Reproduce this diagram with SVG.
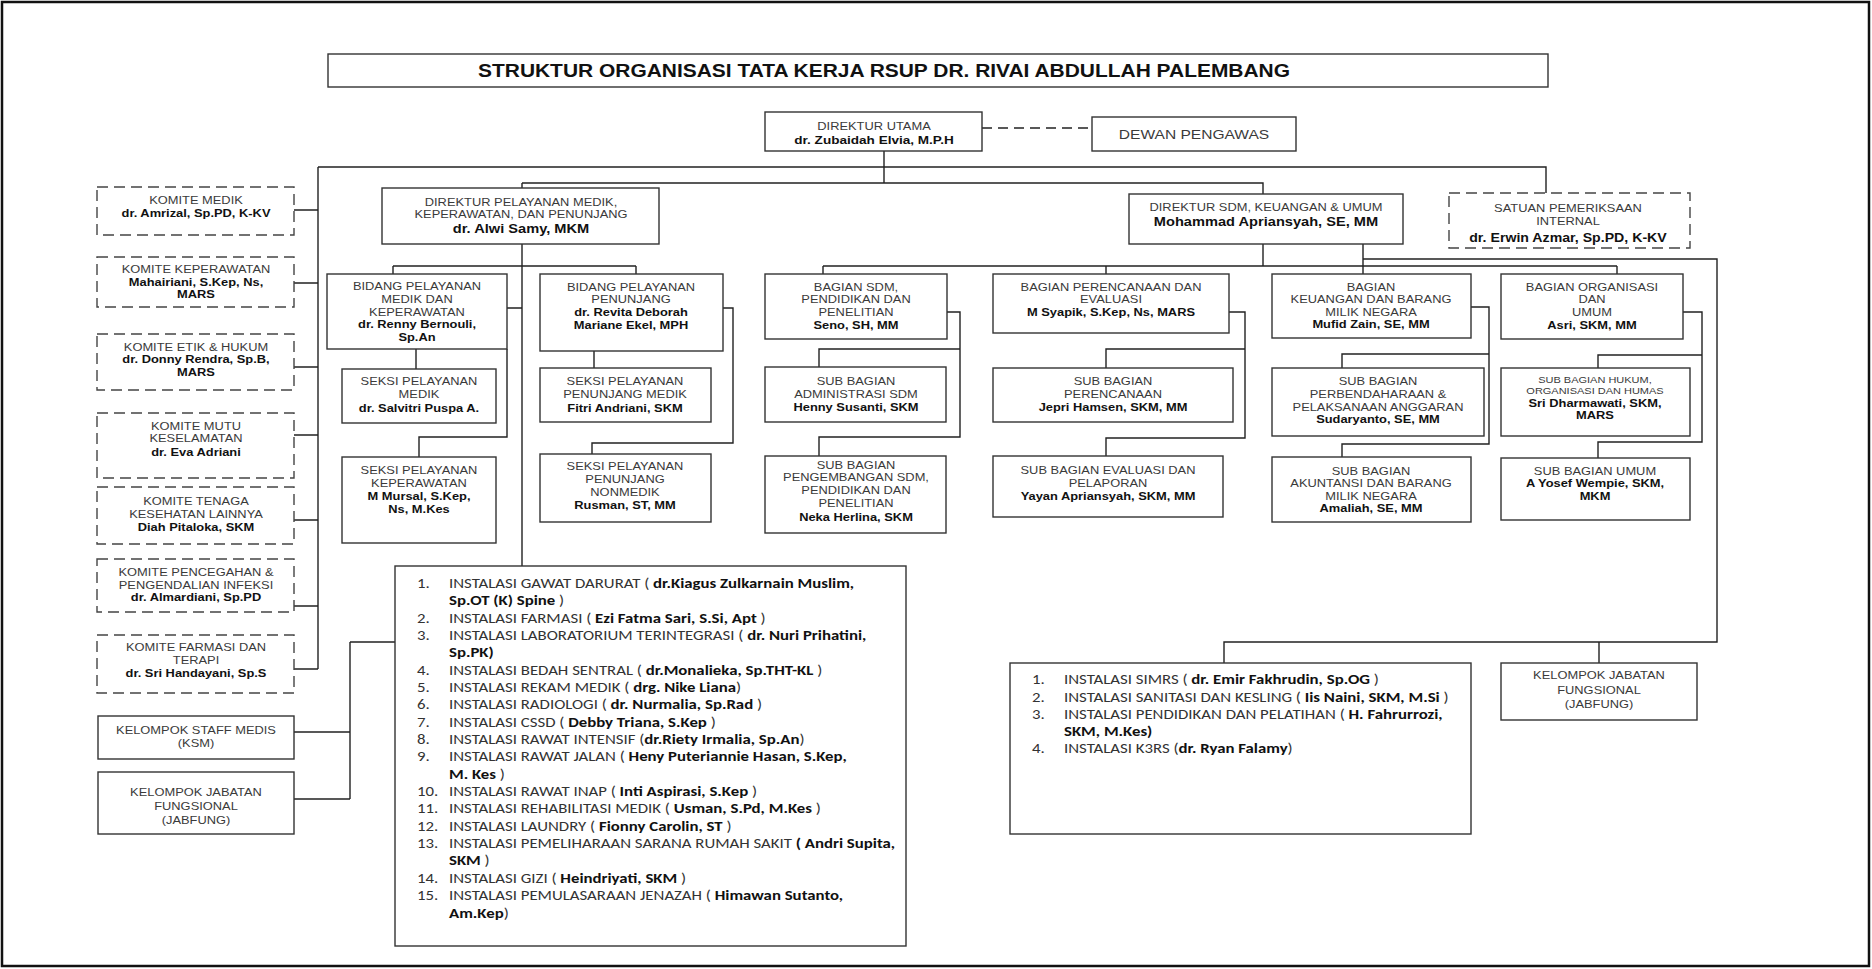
<svg xmlns="http://www.w3.org/2000/svg" width="1872" height="969" viewBox="0 0 1872 969">
<style>
.b{fill:#fff;stroke:#333;stroke-width:1.4}
.d{fill:#fff;stroke:#444;stroke-width:1.4;stroke-dasharray:11 6}
.l{fill:none;stroke:#222;stroke-width:1.4}
text{font-family:"Liberation Sans",Arial,sans-serif;font-size:11px;fill:#3a3a3a;text-anchor:middle}
.n{font-weight:bold;fill:#111}
.bn{font-weight:bold;fill:#111;font-size:12.5px}
.s{font-size:9.4px}
.c{font-family:Carlito,Lato,sans-serif;font-size:14px;text-anchor:start;fill:#333}
.c tspan.k{font-weight:bold;fill:#111}
</style>
<rect x="2" y="2" width="1867" height="964" fill="#fff" stroke="#111" stroke-width="2.5"/>

<g id="title"><rect class="b" x="328" y="54" width="1220" height="33"/>
<text x="884" y="77" style="font-size:18px;font-weight:bold;fill:#111" textLength="812" lengthAdjust="spacingAndGlyphs">STRUKTUR ORGANISASI TATA KERJA RSUP DR. RIVAI ABDULLAH PALEMBANG</text></g>

<g id="connectors">
<path class="l" d="M982 128H1092" stroke-dasharray="10 6"/>
<path class="l" d="M884 151V183M318 167H1546V193M522 183H1263V194M318 167V669"/>
<path class="l" d="M294 210H318M294 283H318M294 367H318M294 435H318M294 520H318M294 606H318M294 669H318"/>
<path class="l" d="M522 183V188M522 244V566M393 266H636M393 266V274M636 266V274"/>
<path class="l" d="M507 308H522M416 349V369M507 349V437H419V457"/>
<path class="l" d="M723 308H733V443H592V454M594 351V368"/>
<path class="l" d="M1263 244V266M823 266H1617M823 266V274M1106 266V274M1617 266V274M1363 244V274M1363 259H1717V642H1224V663M1599 642V663"/>
<path class="l" d="M947 312H960V437H819V456M960 349H819V367"/>
<path class="l" d="M1229 312H1245V438H1106V456M1245 349H1106V368"/>
<path class="l" d="M1471 307H1489V444H1342V457M1489 354H1342V368"/>
<path class="l" d="M1683 312H1702V442H1598V458M1702 355H1598V368"/>
<path class="l" d="M294 732H350M294 799H350M350 642V799M350 642H395"/>
</g>

<g id="direktur-utama"><rect class="b" x="765" y="112" width="217" height="39"/>
<g transform="translate(874 0) scale(1.17 1)"><text y="130">DIREKTUR UTAMA</text><text class="bn" y="144" style="font-size:11.6px">dr. Zubaidah Elvia, M.P.H</text></g></g>
<g id="dewan"><rect class="b" x="1092" y="117" width="204" height="34"/>
<g transform="translate(1194 0) scale(1.17 1)"><text y="139" style="font-size:13.3px">DEWAN PENGAWAS</text></g></g>

<g id="satuan"><rect class="d" x="1449" y="193" width="241" height="55"/>
<g transform="translate(1568 0) scale(1.17 1)"><text y="212">SATUAN PEMERIKSAAN</text><text y="225">INTERNAL</text><text class="bn" y="242" style="font-size:12.1px">dr. Erwin Azmar, Sp.PD, K-KV</text></g></g>

<g id="dir-pelayanan"><rect class="b" x="382" y="188" width="277" height="56"/>
<g transform="translate(521 0) scale(1.17 1)"><text y="206">DIREKTUR PELAYANAN MEDIK,</text><text y="218">KEPERAWATAN, DAN PENUNJANG</text><text class="bn" y="233">dr. Alwi Samy, MKM</text></g></g>

<g id="dir-sdm"><rect class="b" x="1129" y="194" width="274" height="50"/>
<g transform="translate(1266 0) scale(1.17 1)"><text y="211">DIREKTUR SDM, KEUANGAN &amp; UMUM</text><text class="bn" y="226">Mohammad Apriansyah, SE, MM</text></g></g>

<g id="komite-medik"><rect class="d" x="97" y="187" width="197" height="48"/>
<g transform="translate(196 0) scale(1.17 1)"><text y="204">KOMITE MEDIK</text><text class="n" y="217">dr. Amrizal, Sp.PD, K-KV</text></g></g>
<g id="komite-keperawatan"><rect class="d" x="97" y="257" width="197" height="50"/>
<g transform="translate(196 0) scale(1.17 1)"><text y="273">KOMITE KEPERAWATAN</text><text class="n" y="286">Mahairiani, S.Kep, Ns,</text><text class="n" y="298">MARS</text></g></g>
<g id="komite-etik"><rect class="d" x="97" y="334" width="197" height="56"/>
<g transform="translate(196 0) scale(1.17 1)"><text y="351">KOMITE ETIK &amp; HUKUM</text><text class="n" y="363">dr. Donny Rendra, Sp.B,</text><text class="n" y="376">MARS</text></g></g>
<g id="komite-mutu"><rect class="d" x="97" y="413" width="197" height="65"/>
<g transform="translate(196 0) scale(1.17 1)"><text y="430">KOMITE MUTU</text><text y="442">KESELAMATAN</text><text class="n" y="456">dr. Eva Adriani</text></g></g>
<g id="komite-tenaga"><rect class="d" x="97" y="487" width="197" height="57"/>
<g transform="translate(196 0) scale(1.17 1)"><text y="505">KOMITE TENAGA</text><text y="518">KESEHATAN LAINNYA</text><text class="n" y="531">Diah Pitaloka, SKM</text></g></g>
<g id="komite-ppi"><rect class="d" x="97" y="559" width="197" height="53"/>
<g transform="translate(196 0) scale(1.17 1)"><text y="576">KOMITE PENCEGAHAN &amp;</text><text y="589">PENGENDALIAN INFEKSI</text><text class="n" y="601">dr. Almardiani, Sp.PD</text></g></g>
<g id="komite-farmasi"><rect class="d" x="97" y="635" width="197" height="58"/>
<g transform="translate(196 0) scale(1.17 1)"><text y="651">KOMITE FARMASI DAN</text><text y="664">TERAPI</text><text class="n" y="677">dr. Sri Handayani, Sp.S</text></g></g>

<g id="ksm"><rect class="b" x="98" y="716" width="196" height="43"/>
<g transform="translate(196 0) scale(1.17 1)"><text y="734">KELOMPOK STAFF MEDIS</text><text y="747">(KSM)</text></g></g>
<g id="kjf-left"><rect class="b" x="98" y="772" width="196" height="62"/>
<g transform="translate(196 0) scale(1.17 1)"><text y="796">KELOMPOK JABATAN</text><text y="810">FUNGSIONAL</text><text y="824">(JABFUNG)</text></g></g>

<g id="bidang-medik"><rect class="b" x="327" y="274" width="180" height="75"/>
<g transform="translate(417 0) scale(1.17 1)"><text y="290">BIDANG PELAYANAN</text><text y="303">MEDIK DAN</text><text y="316">KEPERAWATAN</text><text class="n" y="328">dr. Renny Bernouli,</text><text class="n" y="341">Sp.An</text></g></g>
<g id="seksi-medik"><rect class="b" x="342" y="369" width="154" height="54"/>
<g transform="translate(419 0) scale(1.17 1)"><text y="385">SEKSI PELAYANAN</text><text y="398">MEDIK</text><text class="n" y="412">dr. Salvitri Puspa A.</text></g></g>
<g id="seksi-keperawatan"><rect class="b" x="342" y="457" width="154" height="86"/>
<g transform="translate(419 0) scale(1.17 1)"><text y="474">SEKSI PELAYANAN</text><text y="487">KEPERAWATAN</text><text class="n" y="500">M Mursal, S.Kep,</text><text class="n" y="513">Ns, M.Kes</text></g></g>

<g id="bidang-penunjang"><rect class="b" x="540" y="274" width="183" height="77"/>
<g transform="translate(631 0) scale(1.17 1)"><text y="291">BIDANG PELAYANAN</text><text y="303">PENUNJANG</text><text class="n" y="316">dr. Revita Deborah</text><text class="n" y="329">Mariane Ekel, MPH</text></g></g>
<g id="seksi-penunjang-medik"><rect class="b" x="540" y="368" width="171" height="54"/>
<g transform="translate(625 0) scale(1.17 1)"><text y="385">SEKSI PELAYANAN</text><text y="398">PENUNJANG MEDIK</text><text class="n" y="412">Fitri Andriani, SKM</text></g></g>
<g id="seksi-nonmedik"><rect class="b" x="540" y="454" width="171" height="68"/>
<g transform="translate(625 0) scale(1.17 1)"><text y="470">SEKSI PELAYANAN</text><text y="483">PENUNJANG</text><text y="496">NONMEDIK</text><text class="n" y="509">Rusman, ST, MM</text></g></g>

<g id="bagian-sdm"><rect class="b" x="765" y="274" width="182" height="65"/>
<g transform="translate(856 0) scale(1.17 1)"><text y="291">BAGIAN SDM,</text><text y="303">PENDIDIKAN DAN</text><text y="316">PENELITIAN</text><text class="n" y="329">Seno, SH, MM</text></g></g>
<g id="sub-admin-sdm"><rect class="b" x="765" y="367" width="181" height="55"/>
<g transform="translate(856 0) scale(1.17 1)"><text y="385">SUB BAGIAN</text><text y="398">ADMINISTRASI SDM</text><text class="n" y="411">Henny Susanti, SKM</text></g></g>
<g id="sub-pengembangan"><rect class="b" x="765" y="456" width="181" height="77"/>
<g transform="translate(856 0) scale(1.17 1)"><text y="469">SUB BAGIAN</text><text y="481">PENGEMBANGAN SDM,</text><text y="494">PENDIDIKAN DAN</text><text y="507">PENELITIAN</text><text class="n" y="521">Neka Herlina, SKM</text></g></g>

<g id="bagian-perencanaan"><rect class="b" x="993" y="274" width="236" height="59"/>
<g transform="translate(1111 0) scale(1.17 1)"><text y="291">BAGIAN PERENCANAAN DAN</text><text y="303">EVALUASI</text><text class="n" y="316">M Syapik, S.Kep, Ns, MARS</text></g></g>
<g id="sub-perencanaan"><rect class="b" x="993" y="368" width="240" height="54"/>
<g transform="translate(1113 0) scale(1.17 1)"><text y="385">SUB BAGIAN</text><text y="398">PERENCANAAN</text><text class="n" y="411">Jepri Hamsen, SKM, MM</text></g></g>
<g id="sub-evaluasi"><rect class="b" x="993" y="456" width="230" height="61"/>
<g transform="translate(1108 0) scale(1.17 1)"><text y="474">SUB BAGIAN EVALUASI DAN</text><text y="487">PELAPORAN</text><text class="n" y="500">Yayan Apriansyah, SKM, MM</text></g></g>

<g id="bagian-keuangan"><rect class="b" x="1272" y="274" width="199" height="64"/>
<g transform="translate(1371 0) scale(1.17 1)"><text y="291">BAGIAN</text><text y="303">KEUANGAN DAN BARANG</text><text y="316">MILIK NEGARA</text><text class="n" y="328">Mufid Zain, SE, MM</text></g></g>
<g id="sub-perbendaharaan"><rect class="b" x="1272" y="368" width="212" height="68"/>
<g transform="translate(1378 0) scale(1.17 1)"><text y="385">SUB BAGIAN</text><text y="398">PERBENDAHARAAN &amp;</text><text y="411">PELAKSANAAN ANGGARAN</text><text class="n" y="423">Sudaryanto, SE, MM</text></g></g>
<g id="sub-akuntansi"><rect class="b" x="1272" y="457" width="199" height="65"/>
<g transform="translate(1371 0) scale(1.17 1)"><text y="475">SUB BAGIAN</text><text y="487">AKUNTANSI DAN BARANG</text><text y="500">MILIK NEGARA</text><text class="n" y="512">Amaliah, SE, MM</text></g></g>

<g id="bagian-organisasi"><rect class="b" x="1501" y="274" width="182" height="65"/>
<g transform="translate(1592 0) scale(1.17 1)"><text y="291">BAGIAN ORGANISASI</text><text y="303">DAN</text><text y="316">UMUM</text><text class="n" y="329">Asri, SKM, MM</text></g></g>
<g id="sub-hukum"><rect class="b" x="1501" y="368" width="189" height="68"/>
<g transform="translate(1595 0) scale(1.17 1)"><text class="s" y="383">SUB BAGIAN HUKUM,</text><text class="s" y="394">ORGANISASI DAN HUMAS</text><text class="n" y="407">Sri Dharmawati, SKM,</text><text class="n" y="419">MARS</text></g></g>
<g id="sub-umum"><rect class="b" x="1501" y="458" width="189" height="62"/>
<g transform="translate(1595 0) scale(1.17 1)"><text y="475">SUB BAGIAN UMUM</text><text class="n" y="487">A Yosef Wempie, SKM,</text><text class="n" y="500">MKM</text></g></g>

<g id="instalasi-pelayanan"><rect class="b" x="395" y="566" width="511" height="380"/>
<g transform="matrix(1.2 0 0 1 -89.8 0)">
<text class="c" y="588"><tspan x="422.3">1.</tspan><tspan x="449">INSTALASI GAWAT DARURAT ( </tspan><tspan class="k">dr.Kiagus Zulkarnain Muslim,</tspan></text>
<text class="c" y="605"><tspan x="449" class="k">Sp.OT (K) Spine</tspan><tspan> )</tspan></text>
<text class="c" y="623"><tspan x="422.3">2.</tspan><tspan x="449">INSTALASI FARMASI ( </tspan><tspan class="k">Ezi Fatma Sari, S.Si, Apt</tspan><tspan> )</tspan></text>
<text class="c" y="640"><tspan x="422.3">3.</tspan><tspan x="449">INSTALASI LABORATORIUM TERINTEGRASI ( </tspan><tspan class="k">dr. Nuri Prihatini,</tspan></text>
<text class="c" y="657"><tspan x="449" class="k">Sp.PK)</tspan></text>
<text class="c" y="675"><tspan x="422.3">4.</tspan><tspan x="449">INSTALASI BEDAH SENTRAL ( </tspan><tspan class="k">dr.Monalieka, Sp.THT-KL</tspan><tspan> )</tspan></text>
<text class="c" y="692"><tspan x="422.3">5.</tspan><tspan x="449">INSTALASI REKAM MEDIK ( </tspan><tspan class="k">drg. Nike Liana</tspan><tspan>)</tspan></text>
<text class="c" y="709"><tspan x="422.3">6.</tspan><tspan x="449">INSTALASI RADIOLOGI ( </tspan><tspan class="k">dr. Nurmalia, Sp.Rad</tspan><tspan> )</tspan></text>
<text class="c" y="727"><tspan x="422.3">7.</tspan><tspan x="449">INSTALASI CSSD ( </tspan><tspan class="k">Debby Triana, S.Kep</tspan><tspan> )</tspan></text>
<text class="c" y="744"><tspan x="422.3">8.</tspan><tspan x="449">INSTALASI RAWAT INTENSIF (</tspan><tspan class="k">dr.Riety Irmalia, Sp.An</tspan><tspan>)</tspan></text>
<text class="c" y="761"><tspan x="422.3">9.</tspan><tspan x="449">INSTALASI RAWAT JALAN ( </tspan><tspan class="k">Heny Puteriannie Hasan, S.Kep,</tspan></text>
<text class="c" y="779"><tspan x="449" class="k">M. Kes</tspan><tspan> )</tspan></text>
<text class="c" y="796"><tspan x="422.3">10.</tspan><tspan x="449">INSTALASI RAWAT INAP ( </tspan><tspan class="k">Inti Aspirasi, S.Kep</tspan><tspan> )</tspan></text>
<text class="c" y="813"><tspan x="422.3">11.</tspan><tspan x="449">INSTALASI REHABILITASI MEDIK ( </tspan><tspan class="k">Usman, S.Pd, M.Kes</tspan><tspan> )</tspan></text>
<text class="c" y="831"><tspan x="422.3">12.</tspan><tspan x="449">INSTALASI LAUNDRY ( </tspan><tspan class="k">Fionny Carolin, ST</tspan><tspan> )</tspan></text>
<text class="c" y="848"><tspan x="422.3">13.</tspan><tspan x="449">INSTALASI PEMELIHARAAN SARANA RUMAH SAKIT </tspan><tspan class="k">( Andri Supita,</tspan></text>
<text class="c" y="865"><tspan x="449" class="k">SKM</tspan><tspan> )</tspan></text>
<text class="c" y="883"><tspan x="422.3">14.</tspan><tspan x="449">INSTALASI GIZI ( </tspan><tspan class="k">Heindriyati, SKM</tspan><tspan> )</tspan></text>
<text class="c" y="900"><tspan x="422.3">15.</tspan><tspan x="449">INSTALASI PEMULASARAAN JENAZAH ( </tspan><tspan class="k">Himawan Sutanto,</tspan></text>
<text class="c" y="918"><tspan x="449" class="k">Am.Kep</tspan><tspan>)</tspan></text>
</g></g>

<g id="instalasi-penunjang"><rect class="b" x="1010" y="663" width="461" height="171"/>
<g transform="matrix(1.2 0 0 1 -212.8 0)">
<text class="c" y="684"><tspan x="1037.3">1.</tspan><tspan x="1064">INSTALASI SIMRS ( </tspan><tspan class="k">dr. Emir Fakhrudin, Sp.OG</tspan><tspan> )</tspan></text>
<text class="c" y="702"><tspan x="1037.3">2.</tspan><tspan x="1064">INSTALASI SANITASI DAN KESLING ( </tspan><tspan class="k">Iis Naini, SKM, M.Si</tspan><tspan> )</tspan></text>
<text class="c" y="719"><tspan x="1037.3">3.</tspan><tspan x="1064">INSTALASI PENDIDIKAN DAN PELATIHAN ( </tspan><tspan class="k">H. Fahrurrozi,</tspan></text>
<text class="c" y="736"><tspan x="1064" class="k">SKM, M.Kes)</tspan></text>
<text class="c" y="753"><tspan x="1037.3">4.</tspan><tspan x="1064">INSTALASI K3RS (</tspan><tspan class="k">dr. Ryan Falamy</tspan><tspan>)</tspan></text>
</g></g>

<g id="kjf-right"><rect class="b" x="1501" y="663" width="196" height="57"/>
<g transform="translate(1599 0) scale(1.17 1)"><text y="679">KELOMPOK JABATAN</text><text y="694">FUNGSIONAL</text><text y="708">(JABFUNG)</text></g></g>
</svg>
